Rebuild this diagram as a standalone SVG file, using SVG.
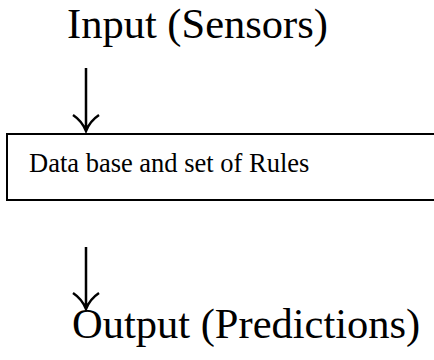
<svg xmlns="http://www.w3.org/2000/svg" width="434" height="360" viewBox="0 0 434 360">
<style>
.t{font-family:"Liberation Serif","Times New Roman",serif;fill:#000}
.big{font-size:42.5px}
.small{font-size:26.5px}
.arr{fill:none;stroke:#000;stroke-width:2.5;stroke-linecap:butt;stroke-linejoin:miter}
</style>
<rect width="434" height="360" fill="#fff"/>
<g id="input"><text class="t big" x="67" y="38">Input (Sensors)</text></g>
<g id="rules">
<rect x="7" y="134" width="440" height="66" fill="#fff" stroke="#000" stroke-width="2"/>
<text class="t small" x="29" y="172">Data base and set of Rules</text>
</g>
<g id="output"><text class="t big" x="72" y="338">Output (Predictions)</text></g>
<g id="connectors">
<path class="arr" d="M86,68 V131 M73,115 Q82,121 86,131 Q90,121 99,115"/>
<path class="arr" d="M86,247 V309 M73,293 Q82,299 86,309 Q90,299 99,293"/>
</g>
</svg>
